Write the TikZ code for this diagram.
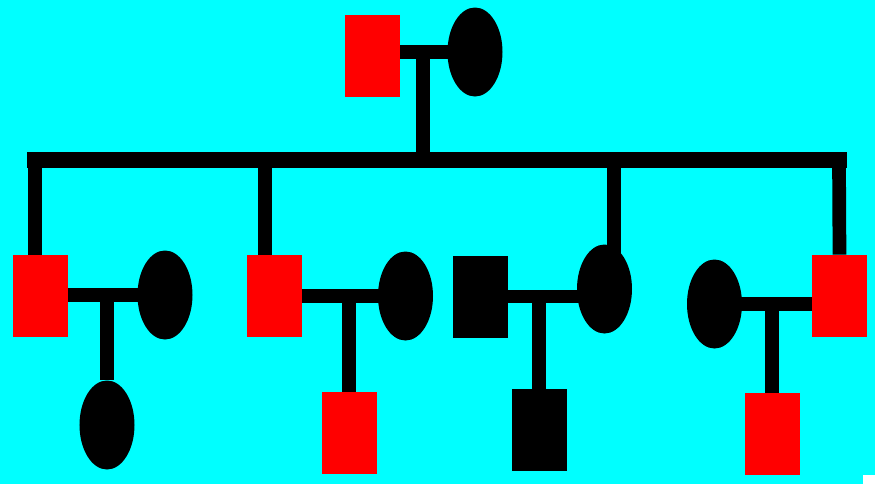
\documentclass[tikz,border=0pt]{standalone}
\usepackage{xcolor}
\usepackage{tikz}
\usetikzlibrary{shapes.geometric}
\definecolor{skyback}{RGB}{0,255,255}
\definecolor{malered}{RGB}{255,0,0}

\begin{document}
\begin{tikzpicture}[x=0.2mm, y=-0.2mm,
  male/.style={rectangle, fill=malered, minimum width=11mm, minimum height=16.4mm, inner sep=0pt},
  female/.style={ellipse, fill=black, minimum width=11mm, minimum height=17.8mm, inner sep=0pt},
  blk/.style={fill=black},
  tie/.style={draw=black, line width=7.8pt},
  bar/.style={draw=black, line width=9.5pt, line cap=rect}]
\fill[skyback] (0,0) rectangle (875,484);
\useasboundingbox (0,0) rectangle (875,484);
\fill[white] (863,475) rectangle (875,484);
% grandparents
\node[male] (gf) at (372,56) {};
\node[female] (gm) at (475,52) {};
% children and their partners
\node[male] (s1) at (40.5,296) {};
\node[female] (w1) at (165,295) {};
\node[male] (s2) at (274.5,296) {};
\node[female] (w2) at (405.5,296) {};
\node[male, blk] (h3) at (480,296.5) {};
\node[female] (d3) at (604.5,289) {};
\node[female] (w4) at (714.5,304) {};
\node[male] (s4) at (839.5,296) {};
% grandchildren
\node[female] (c1) at (107,425) {};
\node[male] (c2) at (349,433) {};
\node[male, blk] (c3) at (539,430) {};
\node[male] (c4) at (772,434) {};
% sibship line
\coordinate (sib0) at (423,160);
\coordinate (sib1) at (35,160);
\coordinate (sib2) at (265,160);
\coordinate (sib3) at (614,160);
\coordinate (sib4) at (839,160);
\draw[tie] (gm.center) -- (gm.center -| gf.east);
\draw[tie] (sib0) -- (sib0 |- gm.center);
\draw[bar] (sib1) -- (sib4);
\draw[tie] (sib1) -- (sib1 |- s1.north);
\draw[tie] (sib2) -- (sib2 |- s2.north);
\draw[tie] (sib3) -- (sib3 |- d3.center);
\draw[tie] (sib4) -- (s4.north);
% couples
\draw[tie] (w1.center) -- (w1.center -| s1.east);
\draw[tie] (w2.center) -- (w2.center -| s2.east);
\draw[tie] (h3.east) -- (h3.east -| d3.center);
\draw[tie] (w4.center) -- (w4.center -| s4.west);
\draw[tie] (c1.north) -- (c1.north |- w1.center);
\draw[tie] (c2.north) -- (c2.north |- w2.center);
\draw[tie] (c3.north) -- (c3.north |- h3.east);
\draw[tie] (c4.north) -- (c4.north |- w4.center);
\end{tikzpicture}
\end{document}
